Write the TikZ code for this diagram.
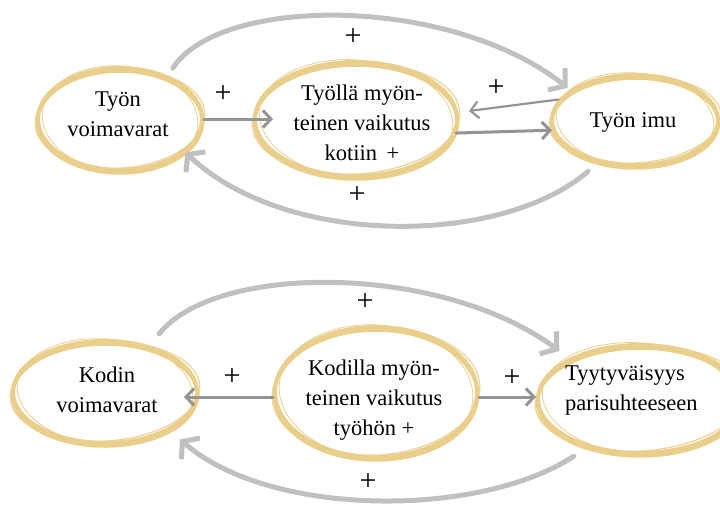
\documentclass[tikz,border=0pt]{standalone}
\usepackage{fontspec}
\setmainfont{Liberation Serif}
\usetikzlibrary{arrows.meta,shapes.geometric}
\definecolor{ring}{RGB}{234,207,140}
\definecolor{arcgray}{RGB}{192,192,192}
\definecolor{lingray}{RGB}{148,148,148}
\newcommand\brushring[3]{%
  \draw[ring, line width=3.5pt] ([yshift=-3pt]#1.center) ellipse [x radius={(#2+0.5)*1pt}, y radius={(#3)*1pt}];
  \draw[ring, line width=1.3pt, opacity=.85] (#1.center) ellipse [x radius={(#2+3)*1pt}, y radius={(#3-2)*1pt}, rotate=4];
  \draw[ring, line width=0.8pt] (#1.center) ellipse [x radius={(#2-4)*1pt}, y radius={(#3+2)*1pt}, rotate=-5];
}
\begin{document}
\begin{tikzpicture}[x=1pt,y=-1pt,
  bubble/.style n args={2}{ellipse, draw=ring, line width=4pt, minimum width=#1pt, minimum height=#2pt, inner sep=0pt},
  lbl/.style={font=\fontsize{22.5}{30}\selectfont, align=center, text=black, inner sep=0pt},
  plus/.style={font=\fontsize{30}{30}\selectfont, inner sep=0pt},
  arr/.style={draw=lingray, line width=3pt, line cap=round, -{Straight Barb[length=8pt,width=17pt]}},
  arcarr/.style={draw=arcgray, line width=5pt, line cap=round, -{Straight Barb[length=11pt,width=28pt]}}
]
\useasboundingbox (0,0) rectangle (720,504);
% ---------- top row ----------
\node[bubble={164}{102}] (A) at (120,119) {};
\node[bubble={202}{114}] (B) at (356,119) {};
\node[bubble={166}{90}] (C) at (635,120) {};
\brushring{A}{82}{51}
\brushring{B}{101}{57}
\brushring{C}{83}{45}
\node[lbl] (At) at (118,114) {Työn\\voimavarat};
\node[lbl] (Bt) at (362,123) {Työllä myön-\\teinen vaikutus\\kotiin\, +};
\node[lbl] (Ct) at (633,122) {Työn imu};

\draw[arcarr, shorten >=3pt] ([shift={(8pt,6pt)}]A.45) .. controls (220,-5) and (450,-5) .. (C.155);
\draw[arcarr] ([yshift=-12pt]C.220) .. controls (500,247) and (285,247) .. (A.-27);
\draw[arr] (A.east) -- ([xshift=20pt]B.west);
\draw[arr, line width=2.2pt] (C.165) -- ([xshift=10pt,yshift=8pt]B.east);
\draw[arr] (B.-8) -- (C.187);

\node[plus] (p1) at (353,37) {+};
\node[plus] (p2) at (223,94) {+};
\node[plus] (p3) at (496,88) {+};
\node[plus] (p4) at (357,195) {+};

% ---------- bottom row ----------
\node[bubble={184}{102}] (D) at (105,392) {};
\node[bubble={202}{130}] (E) at (376,392) {};
\node[bubble={204}{108}] (F) at (640,399) {};
\brushring{D}{92}{51}
\brushring{E}{101}{65}
\brushring{F}{102}{54}
\node[lbl] (Dt) at (107,390) {Kodin\\voimavarat};
\node[lbl] (Et) at (374,400) {Kodilla myön-\\teinen vaikutus\\työhön +};
\node[lbl, align=left, anchor=west] (Ft) at (565,390) {Tyytyväisyys\\parisuhteeseen};

\draw[arcarr, shorten >=12pt] ([shift={(8pt,12pt)}]D.45) .. controls (215,263) and (440,263) .. (F.150);
\draw[arcarr] ([shift={(-10pt,-10pt)}]F.220) .. controls (480,518) and (270,518) .. ([shift={(12pt,-8pt)}]D.-32);
\draw[arr] ([yshift=-5pt]E.west) -- ([shift={(-15pt,-5pt)}]D.east);
\draw[arr] ([yshift=-5pt]E.east) -- ([yshift=2pt]F.west);

\node[plus] (p5) at (365,302) {+};
\node[plus] (p6) at (232,377) {+};
\node[plus] (p7) at (512,378) {+};
\node[plus] (p8) at (368,482) {+};
\end{tikzpicture}
\end{document}
